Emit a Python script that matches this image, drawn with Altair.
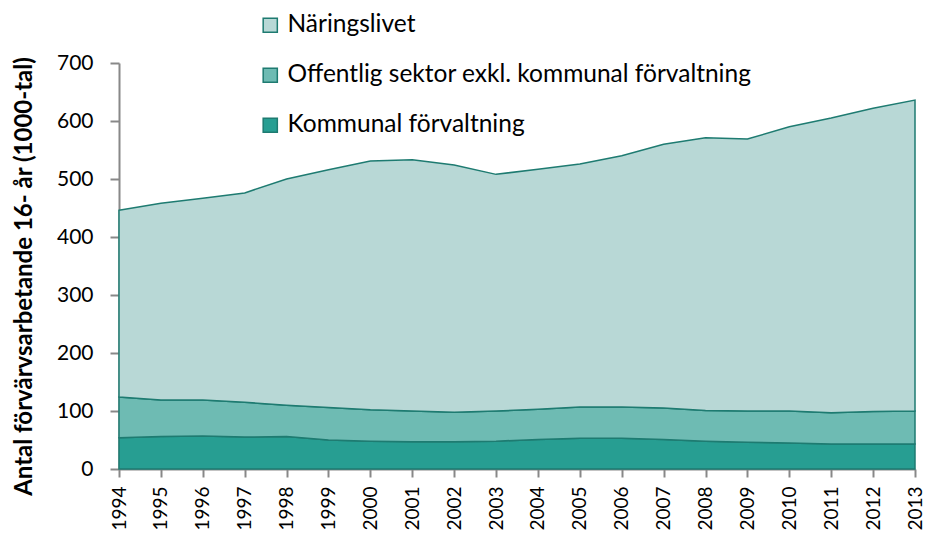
import altair as alt
import pandas as pd

years = list(range(1994, 2014))
kommunal = [54, 56, 57, 55, 56, 50, 48, 47, 47, 48, 51, 53, 53, 51, 48, 46, 45, 43, 43, 43]
offentlig_top = [124, 119, 119, 115, 110, 106, 102, 100, 98, 100, 103, 107, 107, 105, 101, 100, 100, 97, 99, 100]
total = [446, 458, 467, 476, 500, 516, 531, 533, 524, 508, 517, 526, 540, 560, 571, 569, 590, 605, 622, 636]

offentlig = [o - k for o, k in zip(offentlig_top, kommunal)]
naring = [t - o for t, o in zip(total, offentlig_top)]

series = ["Näringslivet", "Offentlig sektor exkl. kommunal förvaltning", "Kommunal förvaltning"]
colors = ["#B8D8D6", "#6EBBB3", "#279E92"]

rows = []
for i, y in enumerate(years):
    rows.append({"year": y, "serie": series[2], "value": kommunal[i], "ord": 1})
    rows.append({"year": y, "serie": series[1], "value": offentlig[i], "ord": 2})
    rows.append({"year": y, "serie": series[0], "value": naring[i], "ord": 3})
df = pd.DataFrame(rows)

FONT = "Lato"
LINE = "#1E7B71"

area = alt.Chart(df).mark_area(
    stroke=LINE, strokeWidth=1.5, opacity=1
).encode(
    x=alt.X("year:Q", scale=alt.Scale(domain=[1994, 2013], nice=False, zero=False),
            axis=alt.Axis(values=years, format="d", title=None, labelAngle=270,
                          labelAlign="right", labelBaseline="middle", labelFontSize=19,
                          labelColor="#000", labelFont=FONT, labelPadding=9,
                          domainColor="#888", domainWidth=2, tickColor="#888", tickWidth=2,
                          tickSize=8, grid=False, labelOverlap=False)),
    y=alt.Y("value:Q", stack="zero", scale=alt.Scale(domain=[0, 700], nice=False),
            axis=alt.Axis(values=list(range(0, 701, 100)), title="Antal förvärvsarbetande 16- år (1000-tal)",
                          titleFontSize=24, titleFont=FONT, titleFontWeight="bold", titleColor="#000",
                          titlePadding=20, titleY=213, labelFontSize=21, labelColor="#000", labelFont=FONT,
                          labelPadding=17, domainColor="#888", domainWidth=2, tickColor="#888",
                          tickWidth=2, tickSize=9, grid=False)),
    color=alt.Color("serie:N", scale=alt.Scale(domain=series, range=colors),
                    legend=alt.Legend(title=None, orient="none", legendX=139, legendY=-50,
                                      direction="vertical", symbolType="square", symbolSize=200,
                                      symbolStrokeColor=LINE, symbolStrokeWidth=1.5,
                                      labelFontSize=24.5, labelFont=FONT, labelColor="#000",
                                      rowPadding=25, labelOffset=5, labelLimit=700)),
    order=alt.Order("ord:Q", sort="ascending"),
)

chart = area.properties(
    width=796, height=406,
    autosize=alt.AutoSizeParams(type="none"),
    padding={"left": 111, "top": 55, "right": 9, "bottom": 62},
).configure_view(stroke=None)

chart.save("out.html", embed_options={"renderer": "svg", "actions": False})
